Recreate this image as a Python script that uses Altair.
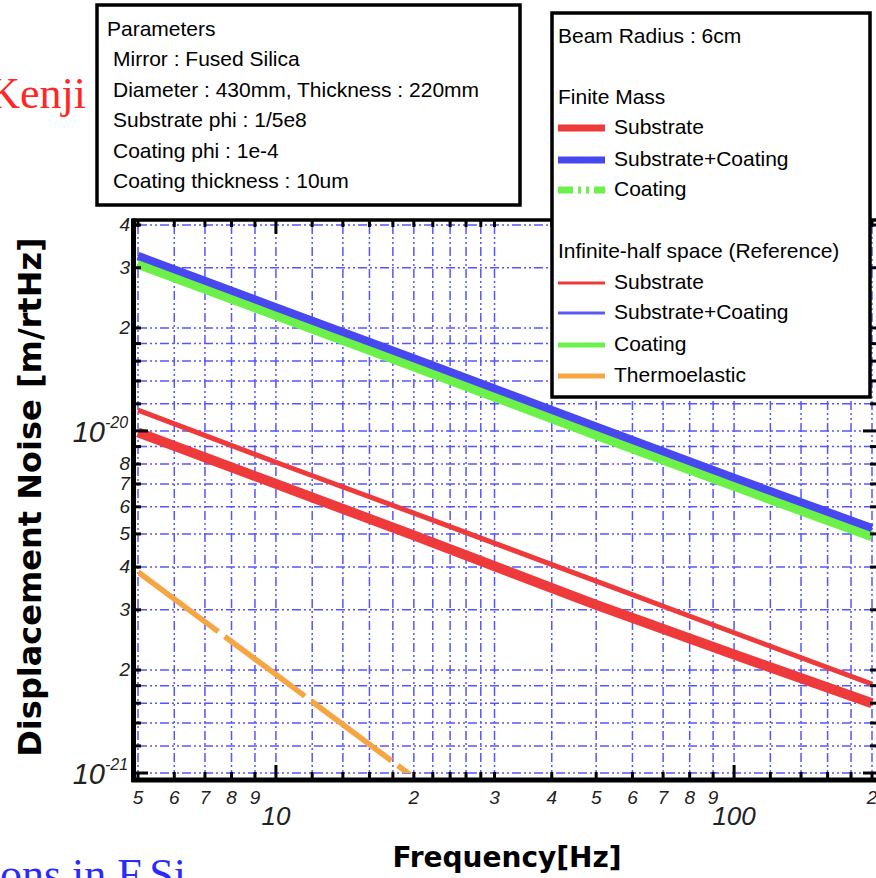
import altair as alt
import pandas as pd

W, H = 734, 548

# ---------------- data ----------------
freq = [5, 10, 20, 50, 100, 200]
finite_substrate = [9.9e-21, 7.0e-21, 4.95e-21, 3.1e-21, 2.22e-21, 1.6e-21]
finite_sub_coat = [3.25e-20, 2.3e-20, 1.63e-20, 1.03e-20, 7.3e-21, 5.2e-21]
finite_coating = [3.08e-20, 2.18e-20, 1.545e-20, 9.75e-21, 6.91e-21, 4.92e-21]
inf_substrate = [1.15e-20, 8.1e-21, 5.75e-21, 3.64e-21, 2.57e-21, 1.82e-21]
inf_sub_coat = [3.24e-20, 2.29e-20, 1.62e-20, 1.03e-20, 7.25e-21, 5.15e-21]
inf_coating = [3.1e-20, 2.2e-20, 1.56e-20, 9.85e-21, 7.0e-21, 4.95e-21]
thermo_freq = [5, 10, 20]
thermoelastic = [3.87e-21, 1.94e-21, 0.97e-21]

x_grid = [5, 6, 7, 8, 9, 10, 12, 14, 16, 18, 20, 22, 24, 26, 28, 30, 40, 50, 60, 70,
          80, 90, 100, 120, 140, 160, 180, 200]
x_major = [10, 100]
x_labeled = [5, 6, 7, 8, 9, 20, 30, 40, 50, 60, 70, 80, 90, 200]
x_label_text = ["5", "6", "7", "8", "9", "2", "3", "4", "5", "6", "7", "8", "9", "2"]
x_decade_labels = ["10", "100"]

y_grid = [1e-21, 1.2e-21, 1.4e-21, 1.6e-21, 1.8e-21, 2e-21, 3e-21, 4e-21, 5e-21,
          6e-21, 7e-21, 8e-21, 9e-21, 1e-20, 1.2e-20, 1.4e-20, 1.6e-20, 1.8e-20,
          2e-20, 3e-20, 4e-20]
y_major = [1e-21, 1e-20]
y_major_exp = ["-21", "-20"]
y_labeled = [2e-21, 3e-21, 4e-21, 5e-21, 6e-21, 7e-21, 8e-21, 2e-20, 3e-20, 4e-20]
y_label_text = ["2", "3", "4", "5", "6", "7", "8", "2", "3", "4"]

param_lines = ["Mirror : Fused Silica", "Diameter : 430mm, Thickness : 220mm",
               "Substrate phi : 1/5e8", "Coating phi : 1e-4", "Coating thickness : 10um"]
legend_items = ["Substrate", "Substrate+Coating", "Coating",
                "Substrate", "Substrate+Coating", "Coating", "Thermoelastic"]

# ---------------- styles ----------------
RED = "#ee3a3a"
BLUE = "#4848f0"
BLUE_THIN = "#5a5af2"
GREEN = "#6cf04a"
ORANGE = "#f7a443"
GRID = "#5555ff"
GDASH = [9, 3, 2, 3, 2, 3]
SANS = "Liberation Sans"
LABEL = "#222222"

xscale = alt.Scale(type="log", domain=[5, 200], nice=False)
yscale = alt.Scale(type="log", domain=[1e-21, 4e-20], nice=False)


def X():
    return alt.X("f:Q", scale=xscale, axis=None)


def Y():
    return alt.Y("v:Q", scale=yscale, axis=None)


def line(f, v, color, width, dash=None, clip=False):
    kw = dict(color=color, strokeWidth=width, clip=clip, strokeCap="butt", strokeJoin="round")
    if dash:
        kw["strokeDash"] = dash
    return alt.Chart(pd.DataFrame({"f": f, "v": v})).mark_line(**kw).encode(x=X(), y=Y())


one = pd.DataFrame({"a": [0]})


def txt(s, x, y, size, font=SANS, weight="normal", style="normal", color="black",
        align="left", baseline="middle", angle=0):
    return alt.Chart(one).mark_text(text=s, font=font, fontSize=size, fontWeight=weight,
                                    fontStyle=style, color=color, align=align,
                                    baseline=baseline, angle=angle).encode(
        x=alt.value(x), y=alt.value(y))


def hrule(x1, x2, y, color, width, dash=None):
    kw = dict(color=color, strokeWidth=width, strokeCap="butt")
    if dash:
        kw["strokeDash"] = dash
    return alt.Chart(one).mark_rule(**kw).encode(x=alt.value(x1), x2=alt.value(x2), y=alt.value(y))


def vrule(x, y1, y2, color, width):
    return alt.Chart(one).mark_rule(color=color, strokeWidth=width, strokeCap="butt").encode(
        x=alt.value(x), y=alt.value(y1), y2=alt.value(y2))


layers = []

# grid lines at the tick values
layers.append(alt.Chart(pd.DataFrame({"f": x_grid})).mark_rule(
    color=GRID, strokeWidth=1.5, strokeDash=GDASH).encode(
    x=X(), y=alt.value(0), y2=alt.value(H)))
layers.append(alt.Chart(pd.DataFrame({"v": y_grid})).mark_rule(
    color=GRID, strokeWidth=1.5, strokeDash=GDASH).encode(
    y=Y(), x=alt.value(0), x2=alt.value(W)))

# series
layers.append(line(freq, inf_coating, GREEN, 5))
layers.append(line(freq, finite_coating, GREEN, 10))
layers.append(line(freq, inf_sub_coat, BLUE_THIN, 3))
layers.append(line(freq, finite_sub_coat, BLUE, 8))
layers.append(line(freq, inf_substrate, RED, 5))
layers.append(line(freq, finite_substrate, RED, 10))
layers.append(line(thermo_freq, thermoelastic, ORANGE, 5.5, dash=[100, 8], clip=True))

# inward ticks
x_minor = [v for v in x_grid if v not in x_major]
y_minor = [v for v in y_grid if v not in y_major]
for vals, ln in ((x_minor, 7), (x_major, 14)):
    d = pd.DataFrame({"f": vals})
    layers.append(alt.Chart(d).mark_rule(color="black", strokeWidth=3).encode(
        x=X(), y=alt.value(H + 6), y2=alt.value(H + 6 - ln)))
    layers.append(alt.Chart(d).mark_rule(color="black", strokeWidth=3).encode(
        x=X(), y=alt.value(-5), y2=alt.value(-5 + ln)))
for vals, ln in ((y_minor, 7), (y_major, 14)):
    d = pd.DataFrame({"v": vals})
    layers.append(alt.Chart(d).mark_rule(color="black", strokeWidth=3).encode(
        y=Y(), x=alt.value(-4), x2=alt.value(-4 + ln)))
    layers.append(alt.Chart(d).mark_rule(color="black", strokeWidth=3).encode(
        y=Y(), x=alt.value(W + 5), x2=alt.value(W + 5 - ln)))

# frame
layers.append(hrule(-6, W + 6, -5, "black", 3.5))
layers.append(hrule(-6.5, W + 6, H + 7, "black", 5))
layers.append(vrule(-4.5, -6.5, H + 9, "black", 5))

# tick labels
layers.append(alt.Chart(pd.DataFrame({"f": x_labeled, "t": x_label_text})).mark_text(
    font=SANS, fontStyle="italic", fontSize=19, color=LABEL, baseline="middle").encode(
    x=X(), y=alt.value(H + 25), text="t:N"))
layers.append(alt.Chart(pd.DataFrame({"f": x_major, "t": x_decade_labels})).mark_text(
    font=SANS, fontStyle="italic", fontSize=26, color=LABEL, baseline="middle").encode(
    x=X(), y=alt.value(H + 44), text="t:N"))
layers.append(alt.Chart(pd.DataFrame({"v": y_labeled, "t": y_label_text})).mark_text(
    font=SANS, fontStyle="italic", fontSize=19, color=LABEL, align="right",
    baseline="middle").encode(y=Y(), x=alt.value(-8), text="t:N"))
dy = pd.DataFrame({"v": y_major, "e": y_major_exp})
layers.append(alt.Chart(dy).mark_text(
    text="10", font=SANS, fontStyle="italic", fontSize=29, color=LABEL, align="right",
    baseline="middle", dy=2).encode(y=Y(), x=alt.value(-33)))
layers.append(alt.Chart(dy).mark_text(
    font=SANS, fontStyle="italic", fontSize=16, color=LABEL, align="left",
    baseline="middle", dy=-8).encode(y=Y(), x=alt.value(-33), text="e:N"))

# axis titles
layers.append(txt("Frequency[Hz]", 369, 634, 28, font="DejaVu Sans", weight="bold",
                  align="center"))
layers.append(txt("Displacement Noise [m/rtHz]", -107, 272, 32, font="DejaVu Sans",
                  weight="bold", align="center", angle=270))

# parameter box
layers.append(alt.Chart(one).mark_rect(fill="white", stroke="black", strokeWidth=3.5).encode(
    x=alt.value(-41), x2=alt.value(382), y=alt.value(-220), y2=alt.value(-20)))
layers.append(txt("Parameters", -31, -195, 21))
for i, s in enumerate(param_lines):
    layers.append(txt(s, -25, -165 + i * 30.6, 21))

# legend box
layers.append(alt.Chart(one).mark_rect(fill="white", stroke="black", strokeWidth=3.5).encode(
    x=alt.value(414), x2=alt.value(732), y=alt.value(-212), y2=alt.value(172)))
layers.append(txt("Beam Radius : 6cm", 420, 37 - 225, 21))
layers.append(txt("Finite Mass", 420, 98 - 225, 21))
layers.append(txt("Infinite-half space (Reference)", 420, 252 - 225, 21))
item_y = [128, 160, 190, 283, 313, 345, 376]
samples = [(RED, 7, None), (BLUE, 7, None), (GREEN, 7, [15, 5, 3, 5, 3, 5]),
           (RED, 3, None), (BLUE_THIN, 3, None), (GREEN, 5, None), (ORANGE, 5, None)]
for s, yy, (c, w, dsh) in zip(legend_items, item_y, samples):
    layers.append(hrule(420, 467, yy - 225, c, w, dsh))
    layers.append(txt(s, 476, yy - 225, 21))

# slide fragments around the chart
layers.append(txt("Kenji", -52, -117, 44, font="Liberation Serif", color="#ff2626",
                  align="right", baseline="alphabetic"))
layers.append(txt("ons in F.Si", -138, 664, 44, font="Liberation Serif", color="#2a2aff",
                  align="left", baseline="alphabetic"))

chart = alt.layer(*layers).properties(
    width=W, height=H,
    autosize=alt.AutoSizeParams(type="none"),
    padding={"left": 138, "top": 225, "right": 4, "bottom": 105},
    background="white",
).configure_view(stroke=None)

chart.save("out.html", embed_options={"renderer": "svg", "actions": False})
